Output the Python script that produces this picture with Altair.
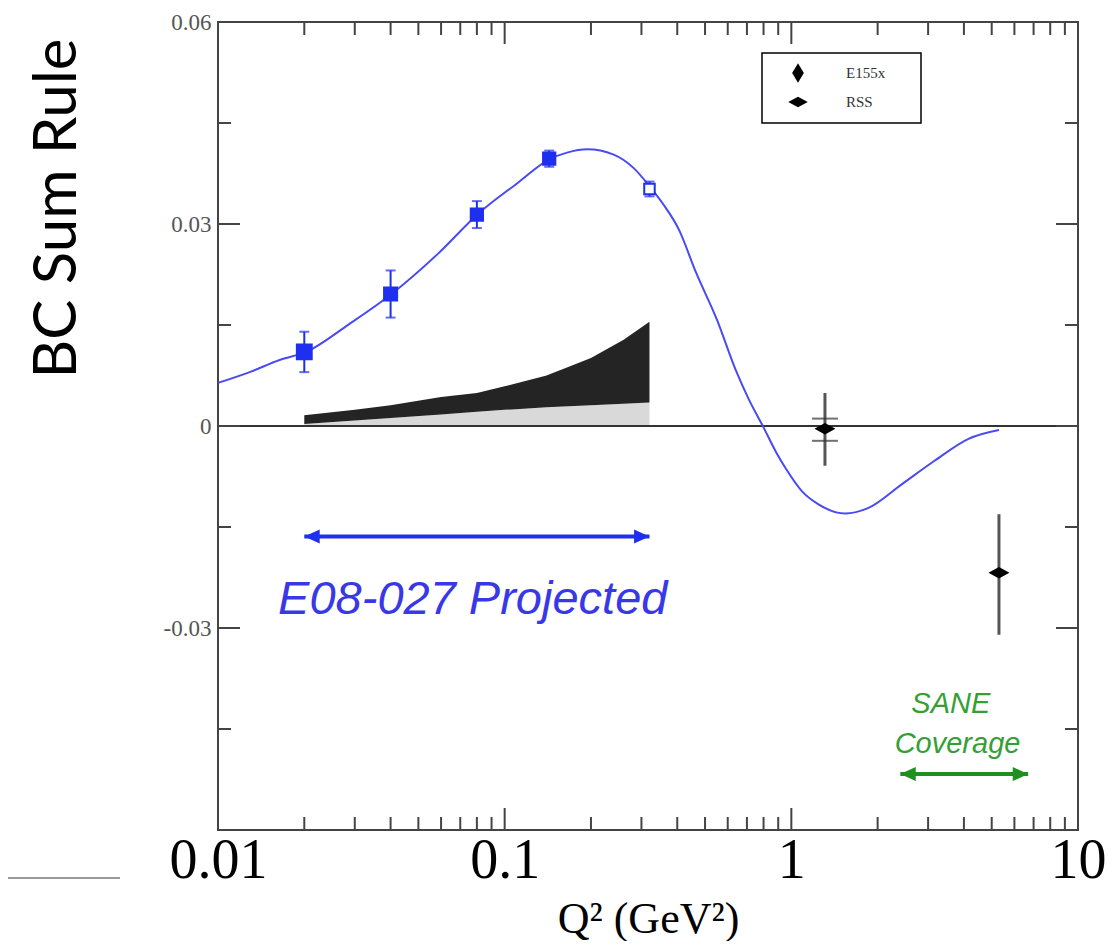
import altair as alt
import pandas as pd

W, H = 860, 808

# ---- model curve ----
curve_q2 = [0.010, 0.0129, 0.0164, 0.0203, 0.0286, 0.0403, 0.0586, 0.0807, 0.111, 0.143,
            0.165, 0.194, 0.240, 0.282, 0.323, 0.358, 0.405, 0.465, 0.55, 0.64, 0.71,
            0.80, 0.88, 0.953, 1.09, 1.24, 1.54, 1.85, 2.42, 3.15, 4.15, 5.3]
curve_val = [0.0064, 0.0080, 0.0098, 0.0110, 0.0151, 0.0196, 0.0256, 0.0315, 0.0361, 0.0396,
             0.0406, 0.0411, 0.0403, 0.0383, 0.0354, 0.0329, 0.0292, 0.0228, 0.0158, 0.0083, 0.0040,
             -0.0002, -0.0037, -0.0062, -0.0097, -0.0116, -0.0130, -0.0122, -0.0087, -0.0052, -0.0019, -0.0006]

# ---- E08-027 projected points ----
proj_q2 = [0.02, 0.04, 0.08, 0.143, 0.32]
proj_val = [0.0110, 0.0196, 0.0314, 0.0397, 0.0352]
proj_err = [0.0030, 0.0035, 0.0020, 0.0012, 0.0011]
proj_open = [False, False, False, False, True]
proj_size = [220, 170, 150, 150, 110]

# ---- systematic band ----
band_q2 = [0.02, 0.03, 0.04, 0.06, 0.08, 0.1, 0.14, 0.2, 0.26, 0.32]
band_gray_top = [0.0003, 0.0008, 0.0012, 0.0017, 0.0021, 0.0024, 0.0028, 0.0031, 0.0033, 0.0035]
band_black_top = [0.0016, 0.0024, 0.0031, 0.0043, 0.0049, 0.0059, 0.0075, 0.0101, 0.0128, 0.0155]

# ---- world data ----
exp_name = ["RSS", "E155x"]
exp_q2 = [1.31, 5.3]
exp_val = [-0.0004, -0.0218]
exp_lo = [-0.0059, -0.0310]
exp_hi = [0.0049, -0.0131]
rss_caps = [0.0011, -0.0022]

# ---- annotations ----
e08_arrow_q2 = [0.02, 0.32]
e08_arrow_val = -0.0164
e08_label = ["E08-027 Projected"]
e08_label_q2 = [0.0774]
e08_label_val = [-0.0258]
sane_arrow_q2 = [2.4, 6.7]
sane_arrow_val = -0.0517
sane_lines = ["SANE", "Coverage"]
sane_q2 = [3.6, 3.8]
sane_val = [-0.0413, -0.0472]

# ---- tick values ----
x_major_ticks = [0.1, 1]
x_minor_ticks = [0.02, 0.03, 0.04, 0.05, 0.06, 0.07, 0.08, 0.09,
                 0.2, 0.3, 0.4, 0.5, 0.6, 0.7, 0.8, 0.9,
                 2, 3, 4, 5, 6, 7, 8, 9]
y_major_ticks = [-0.03, 0, 0.03]
y_minor_ticks = [-0.045, -0.015, 0.015, 0.045]
x_label_values = [0.01, 0.1, 1, 10]
y_label_values = [-0.03, 0, 0.03, 0.06]

BLUE = "#1f2ff0"
CURVE = "#4a4af2"
FRAME = "#444444"

xscale = alt.Scale(type="log", domain=[0.01, 10])
yscale = alt.Scale(domain=[-0.06, 0.06], nice=False, zero=False)

xaxis = alt.Axis(values=x_label_values, format="~g", ticks=False, domain=False, grid=False,
                 labelFont="Liberation Serif", labelFontSize=56, labelColor="black",
                 labelPadding=3, labelFlush=False, labelOverlap=False,
                 title="Q² (GeV²)", titleFont="Liberation Serif", titleFontSize=44,
                 titleFontWeight="normal", titleColor="black", titleY=102,
                 titleBaseline="alphabetic")
yaxis = alt.Axis(values=y_label_values,
                 labelExpr="datum.value == 0 ? '0' : (datum.value < 0 ? '-' : '') + format(abs(datum.value), '.2f')",
                 ticks=False, domain=False, grid=False,
                 labelFont="Liberation Serif", labelFontSize=23, labelColor="#555555",
                 labelPadding=7, labelOverlap=False,
                 title="BC Sum Rule", titleFont="Lato", titleFontSize=60,
                 titleFontWeight="normal", titleColor="black",
                 titleX=-161, titleY=186, titleAngle=270, titleAlign="center",
                 titleBaseline="middle")


def X(f):
    return alt.X(f, type="quantitative", scale=xscale, axis=xaxis)


def Y(f):
    return alt.Y(f, type="quantitative", scale=yscale, axis=yaxis)


curve_df = pd.DataFrame({"q2": curve_q2, "v": curve_val})
proj_df = pd.DataFrame({"q2": proj_q2, "v": proj_val, "err": proj_err, "open": proj_open, "sz": proj_size})
proj_df["lo"] = proj_df["v"] - proj_df["err"]
proj_df["hi"] = proj_df["v"] + proj_df["err"]
band_df = pd.DataFrame({"q2": band_q2, "g": band_gray_top, "b": band_black_top})
exp_df = pd.DataFrame({"name": exp_name, "q2": exp_q2, "v": exp_val, "lo": exp_lo, "hi": exp_hi})
caps_df = pd.DataFrame({"q2": [exp_q2[0]] * len(rss_caps), "v": rss_caps})

gray_band = alt.Chart(band_df).mark_area(color="#d9d9d9").encode(
    x=X("q2"), y=Y("b0"), y2="g").transform_calculate(b0="0")
black_band = alt.Chart(band_df).mark_area(color="#242424").encode(
    x=X("q2"), y=Y("g"), y2="b")

zero_line = alt.Chart(pd.DataFrame({"v": [0]})).mark_rule(color="#333333", strokeWidth=2).encode(
    y=Y("v"), x=alt.value(0), x2=alt.value(W))

xmaj = pd.DataFrame({"q2": x_major_ticks})
xmin = pd.DataFrame({"q2": x_minor_ticks})
ymaj = pd.DataFrame({"v": y_major_ticks})
ymin = pd.DataFrame({"v": y_minor_ticks})
tick_layers = []
for df, ln in [(xmaj, 22), (xmin, 13)]:
    tick_layers.append(alt.Chart(df).mark_rule(color=FRAME, strokeWidth=2).encode(
        x=X("q2"), y=alt.value(H), y2=alt.value(H - ln)))
    tick_layers.append(alt.Chart(df).mark_rule(color=FRAME, strokeWidth=2).encode(
        x=X("q2"), y=alt.value(0), y2=alt.value(ln)))
for df, ln in [(ymaj, 22), (ymin, 13)]:
    tick_layers.append(alt.Chart(df).mark_rule(color=FRAME, strokeWidth=2).encode(
        y=Y("v"), x=alt.value(0), x2=alt.value(ln)))
    tick_layers.append(alt.Chart(df).mark_rule(color=FRAME, strokeWidth=2).encode(
        y=Y("v"), x=alt.value(W), x2=alt.value(W - ln)))

curve = alt.Chart(curve_df).mark_line(color=CURVE, strokeWidth=2, interpolate="monotone").encode(
    x=X("q2"), y=Y("v"))

proj_bars = alt.Chart(proj_df).mark_rule(color=BLUE, strokeWidth=2).encode(
    x=X("q2"), y=Y("lo"), y2="hi")
proj_cap_hi = alt.Chart(proj_df).mark_tick(color=BLUE, orient="horizontal", size=10, thickness=2).encode(
    x=X("q2"), y=Y("hi"))
proj_cap_lo = alt.Chart(proj_df).mark_tick(color=BLUE, orient="horizontal", size=10, thickness=2).encode(
    x=X("q2"), y=Y("lo"))
proj_pts = alt.Chart(proj_df).mark_point(shape="square", filled=True, opacity=1,
                                         strokeWidth=2).encode(
    x=X("q2"), y=Y("v"),
    size=alt.Size("sz:Q", scale=None, legend=None),
    fill=alt.condition("datum.open", alt.value("white"), alt.value(BLUE)),
    stroke=alt.value(BLUE))

exp_bars = alt.Chart(exp_df).mark_rule(color="#555555", strokeWidth=3).encode(
    x=X("q2"), y=Y("lo"), y2="hi")
rss_caps_layer = alt.Chart(caps_df).mark_tick(color="#333333", orient="horizontal", size=26, thickness=2).encode(
    x=X("q2"), y=Y("v"))
FLAT = "M-1,0L0,-0.55L1,0L0,0.55Z"
TALL = "M0,-1L0.6,0L0,1L-0.6,0Z"
exp_pts = alt.Chart(exp_df).mark_point(shape=FLAT, size=440, filled=True, color="black", opacity=1).encode(
    x=X("q2"), y=Y("v"))

# legend frame (box drawn behind the legend entries)
legend_box = alt.Chart(pd.DataFrame({"d": [0]})).mark_rect(
    fill="white", stroke="black", strokeWidth=1.5).encode(
    x=alt.value(544), x2=alt.value(703), y=alt.value(31), y2=alt.value(101))

legend_layer = alt.Chart(exp_df).mark_point(filled=True, color="black", opacity=0).encode(
    x=X("q2"), y=Y("v"),
    shape=alt.Shape("name:N",
                    scale=alt.Scale(domain=["E155x", "RSS"], range=[TALL, FLAT]),
                    legend=alt.Legend(title=None, orient="none", legendX=544, legendY=29,
                                      padding=12,
                                      symbolSize=380, symbolOpacity=1, symbolFillColor="black",
                                      symbolStrokeWidth=0, symbolOffset=14, labelOffset=38,
                                      rowPadding=9, labelFont="Liberation Serif",
                                      labelFontSize=15, labelColor="#333333")))

LEFT_HEAD = "M0,0L2.2,-1L2.2,1Z"
RIGHT_HEAD = "M0,0L-2.2,-1L-2.2,1Z"


def arrow(qs, val, color):
    df = pd.DataFrame({"q2": qs, "v": [val, val], "head": [LEFT_HEAD, RIGHT_HEAD]})
    line = alt.Chart(df).mark_line(color=color, strokeWidth=4).encode(x=X("q2"), y=Y("v"))
    heads = [alt.Chart(df.iloc[[i]]).mark_point(shape=df["head"][i], size=196, filled=True,
                                                  color=color, opacity=1).encode(x=X("q2"), y=Y("v"))
             for i in range(2)]
    return [line] + heads


e08_text = alt.Chart(pd.DataFrame({"q2": e08_label_q2, "v": e08_label_val, "t": e08_label})).mark_text(
    font="Liberation Sans", fontStyle="italic", fontSize=47, color="#3838e6",
    align="center", baseline="middle").encode(x=X("q2"), y=Y("v"), text="t:N")
sane_text = alt.Chart(pd.DataFrame({"q2": sane_q2, "v": sane_val, "t": sane_lines})).mark_text(
    font="Liberation Sans", fontStyle="italic", fontSize=29, color="#34a034",
    align="center", baseline="middle").encode(x=X("q2"), y=Y("v"), text="t:N")

deco = alt.Chart(pd.DataFrame({"d": [0]})).mark_rule(color="#9a9a9a", strokeWidth=2).encode(
    x=alt.value(-212), x2=alt.value(-98), y=alt.value(856))

layers = [gray_band, black_band, zero_line] + tick_layers + [
    curve, proj_bars, proj_cap_hi, proj_cap_lo, proj_pts,
    exp_bars, rss_caps_layer, exp_pts] + arrow(e08_arrow_q2, e08_arrow_val, BLUE) + \
    arrow(sane_arrow_q2, sane_arrow_val, "#1f8f1f") + [e08_text, sane_text, deco, legend_box, legend_layer]

chart = alt.layer(*layers).properties(
    width=W, height=H,
    padding={"left": 210, "top": 14, "right": 31, "bottom": 111},
    autosize=alt.AutoSizeParams(type="none"),
).configure_view(stroke=FRAME, strokeWidth=2)

chart.save("out.html", embed_options={"renderer": "svg", "actions": False})
